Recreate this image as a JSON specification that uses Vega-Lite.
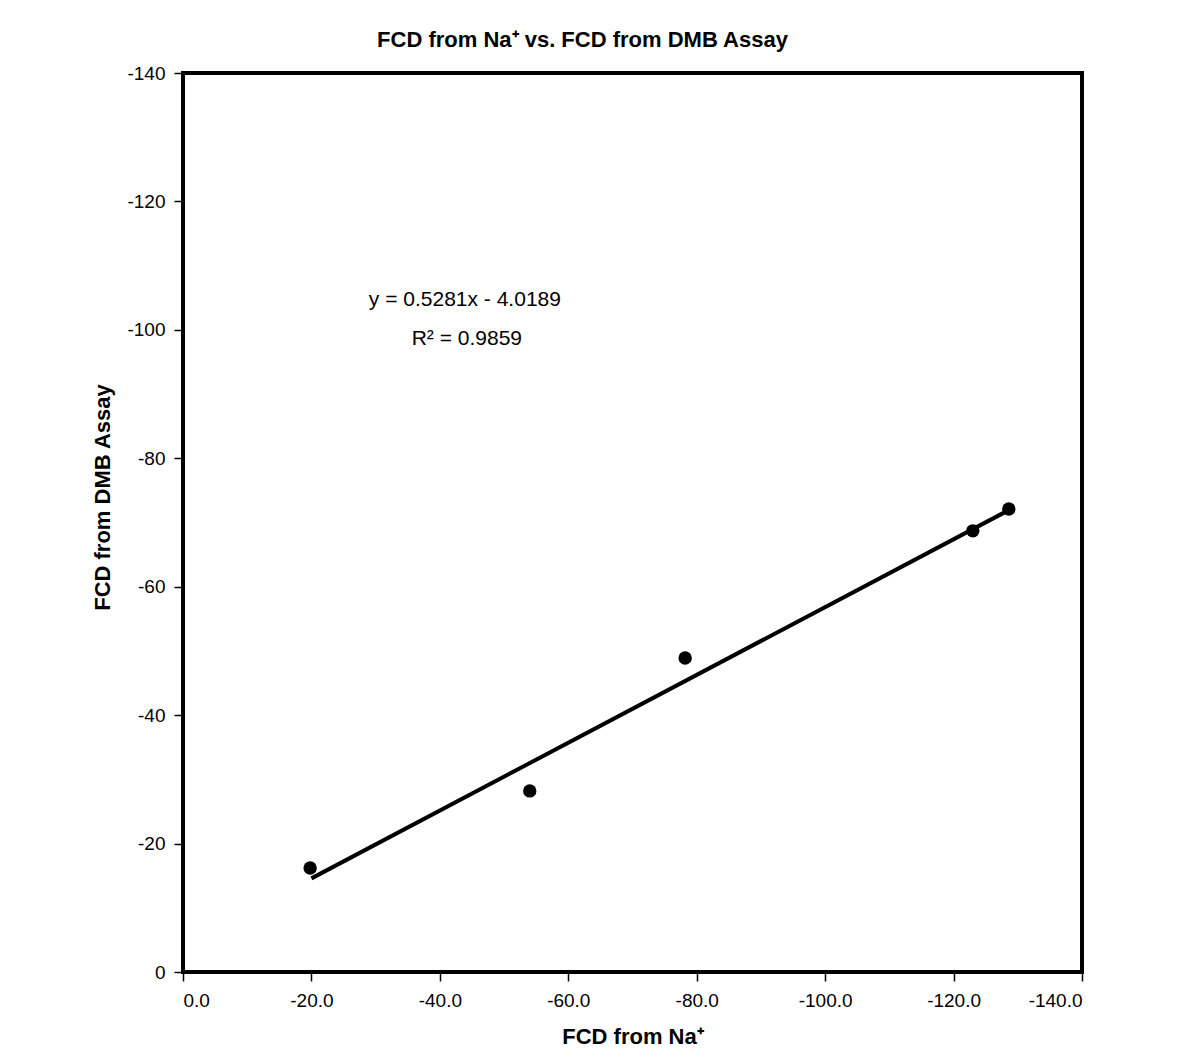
{
  "$schema": "https://vega.github.io/schema/vega-lite/v6.json",
  "width": 899,
  "height": 899,
  "autosize": {"type": "none"},
  "padding": {"left": 183, "top": 73, "right": 103, "bottom": 89},
  "background": "white",
  "title": {
    "text": "FCD from Na⁺ vs. FCD from DMB Assay",
    "font": "Liberation Sans",
    "fontSize": 22,
    "fontWeight": "bold",
    "color": "black",
    "anchor": "middle",
    "frame": "group",
    "offset": 12,
    "dx": -50
  },
  "config": {
    "view": {"stroke": "black", "strokeWidth": 4},
    "axis": {
      "domain": false,
      "grid": false,
      "ticks": true,
      "tickColor": "black",
      "tickWidth": 1.5,
      "tickSize": 9,
      "labelFont": "Liberation Sans",
      "labelFontSize": 19,
      "labelColor": "black",
      "titleFont": "Liberation Sans",
      "titleFontSize": 22,
      "titleFontWeight": "bold",
      "titleColor": "black"
    }
  },
  "datasets": {
    "points": [
      {"na": -19.8, "dmb": -16.2},
      {"na": -54.0, "dmb": -28.2},
      {"na": -78.2, "dmb": -48.9},
      {"na": -123.0, "dmb": -68.7},
      {"na": -128.6, "dmb": -72.1}
    ],
    "trend": [
      {"na": -20.0, "dmb": -14.58},
      {"na": -128.6, "dmb": -71.93}
    ],
    "notes": [
      {"na": -43.9, "dmb": -104.7, "label": "y = 0.5281x - 4.0189"},
      {"na": -44.2, "dmb": -98.6, "label": "R² = 0.9859"}
    ]
  },
  "layer": [
    {
      "data": {"name": "trend"},
      "mark": {"type": "line", "color": "black", "strokeWidth": 4},
      "encoding": {
        "x": {
          "field": "na",
          "type": "quantitative",
          "scale": {"domain": [0, -140], "nice": false, "zero": false},
          "axis": {
            "title": "FCD from Na⁺",
            "values": [0, -20, -40, -60, -80, -100, -120, -140],
            "format": ".1f",
            "labelExpr": "replace(datum.label, '−', '-')",
            "labelPadding": 10,
            "titlePadding": 16
          }
        },
        "y": {
          "field": "dmb",
          "type": "quantitative",
          "scale": {"domain": [0, -140], "nice": false, "zero": false},
          "axis": {
            "title": "FCD from DMB Assay",
            "values": [0, -20, -40, -60, -80, -100, -120, -140],
            "format": "d",
            "labelExpr": "replace(datum.label, '−', '-')",
            "labelPadding": 9,
            "titlePadding": 12,
            "titleY": 424
          }
        }
      }
    },
    {
      "data": {"name": "points"},
      "mark": {"type": "circle", "color": "black", "opacity": 1, "size": 180},
      "encoding": {
        "x": {"field": "na", "type": "quantitative"},
        "y": {"field": "dmb", "type": "quantitative"}
      }
    },
    {
      "data": {"name": "notes"},
      "mark": {"type": "text", "font": "Liberation Sans", "fontSize": 21, "color": "black", "align": "center", "baseline": "middle"},
      "encoding": {
        "x": {"field": "na", "type": "quantitative"},
        "y": {"field": "dmb", "type": "quantitative"},
        "text": {"field": "label"}
      }
    }
  ]
}
